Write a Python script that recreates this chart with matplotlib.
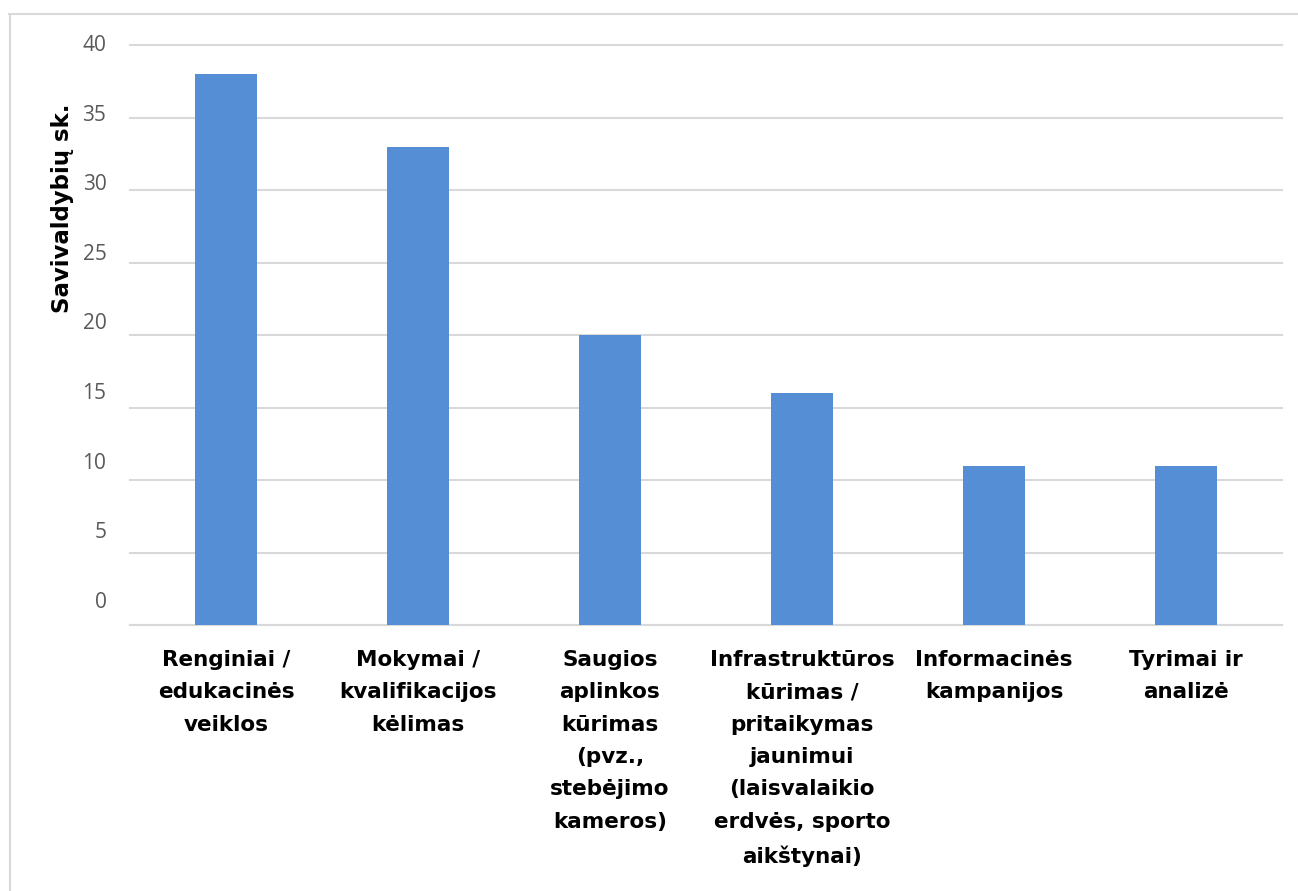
import matplotlib
matplotlib.use("Agg")
import matplotlib.pyplot as plt
import matplotlib.transforms as mtransforms
from matplotlib.lines import Line2D
import numpy as np

categories = [
    "Renginiai /\nedukacinės\nveiklos",
    "Mokymai /\nkvalifikacijos\nkėlimas",
    "Saugios\naplinkos\nkūrimas\n(pvz.,\nstebėjimo\nkameros)",
    "Infrastruktūros\nkūrimas /\npritaikymas\njaunimui\n(laisvalaikio\nerdvės, sporto\naikštynai)",
    "Informacinės\nkampanijos",
    "Tyrimai ir\nanalizė",
]
values = [38, 33, 20, 16, 11, 11]
yticks = [0, 5, 10, 15, 20, 25, 30, 35, 40]

W, H = 1298, 891
fig = plt.figure(figsize=(W / 100, H / 100), dpi=100)
plt.rcParams['font.family'] = ['DejaVu Sans']

# plot area in pixels: x 130..1282, y 45 (40) .. 625 (0)
ax = fig.add_axes([130 / W, 1 - 625 / H, (1282 - 130) / W, (625 - 45) / H])
x = np.arange(len(categories))
ax.bar(x, values, width=0.32, color="#558ED5", zorder=3)
ax.set_xlim(-0.5, len(categories) - 0.5)
ax.set_ylim(0, 40)
ax.set_yticks(yticks)
ax.yaxis.grid(True, color="#D9D9D9", linewidth=1.5, zorder=0)
for gl in ax.get_ygridlines():
    gl.set_clip_on(False)
for s in ax.spines.values():
    s.set_visible(False)
ax.spines['bottom'].set_visible(True)
ax.spines['bottom'].set_color("#D9D9D9")
ax.spines['bottom'].set_linewidth(1.5)
ax.tick_params(axis='both', length=0)
ax.tick_params(axis='y', labelcolor="#595959", pad=17)

# excel-style: tick labels drift above their gridlines
for v, lab in zip(yticks, ax.get_yticklabels()):
    lab.set_fontfamily(['Open Sans', 'DejaVu Sans'])
    lab.set_fontsize(15)
    off = mtransforms.ScaledTranslation(0, (2 + (40 - v) * 0.58) / 100, fig.dpi_scale_trans)
    lab.set_transform(lab.get_transform() + off)

ax.set_xticks(x)
ax.set_xticklabels(categories, fontsize=15.5, fontweight='bold', linespacing=1.77,
                   va='top')
ax.tick_params(axis='x', pad=18)

fig.text(62 / W, 1 - 208 / H, "Savivaldybių sk.", rotation=90, fontsize=16.5,
         fontweight='bold', ha='center', va='center')

# outer border (top and left visible)
fig.add_artist(Line2D([9 / W, 1], [1 - 13.5 / H, 1 - 13.5 / H], color="#D9D9D9",
                      linewidth=1.5, transform=fig.transFigure))
fig.add_artist(Line2D([10 / W, 10 / W], [0, 1 - 13.5 / H], color="#D9D9D9",
                      linewidth=1.5, transform=fig.transFigure))

fig.savefig("out.png", dpi=100, facecolor="white")
